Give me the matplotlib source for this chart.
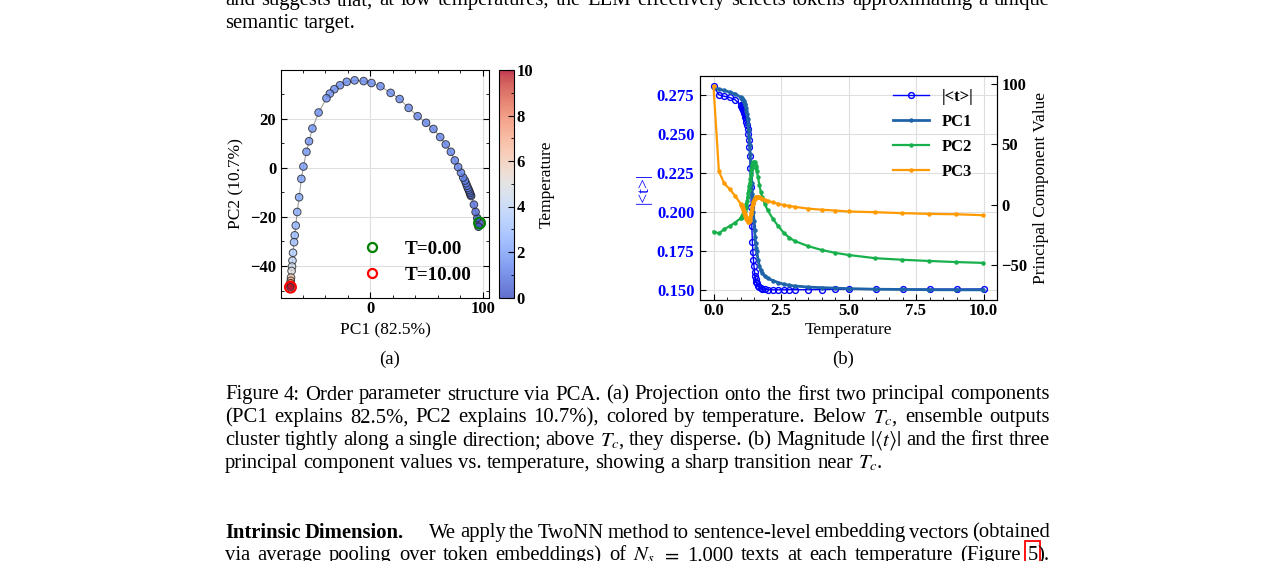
import numpy as np
import matplotlib
matplotlib.use("Agg")
import matplotlib.pyplot as plt
from matplotlib.ticker import MultipleLocator, FormatStrFormatter
from matplotlib.lines import Line2D
from matplotlib.patches import Rectangle

# ---------------- data ----------------
temperature = [0.0, 0.2, 0.4, 0.6, 0.8,
               1.00, 1.02, 1.04, 1.06, 1.08, 1.10, 1.12, 1.14, 1.16, 1.18,
               1.20, 1.22, 1.24, 1.26, 1.28, 1.30, 1.32, 1.34, 1.36, 1.38,
               1.40, 1.42, 1.44, 1.46, 1.48, 1.50, 1.52, 1.54, 1.56, 1.58,
               1.60, 1.65, 1.70, 1.75, 1.80, 1.90,
               2.0, 2.2, 2.4, 2.6, 2.8, 3.0,
               3.5, 4.0, 4.5, 5.0, 6.0, 7.0, 8.0, 9.0, 10.0]

abs_t = [0.2805, 0.2750, 0.2740, 0.2733, 0.2718,
         0.2685, 0.2679, 0.2672, 0.2665, 0.2658, 0.2651, 0.2643, 0.2634, 0.2623, 0.2610,
         0.2597, 0.2578, 0.2556, 0.2530, 0.2500, 0.2462, 0.2415, 0.2360, 0.2280, 0.2160,
         0.2030, 0.1910, 0.1810, 0.1745, 0.1695, 0.1655, 0.1618, 0.1590, 0.1570, 0.1555,
         0.1545, 0.1530, 0.1520, 0.1514, 0.1510, 0.1507,
         0.1505, 0.1504, 0.1504, 0.1504, 0.1505, 0.1505,
         0.1505, 0.1506, 0.1507, 0.1507, 0.1508, 0.1508, 0.1508, 0.1508, 0.1509]

pc1 = [97.0, 96.0, 95.0, 93.5, 92.0,
       89.5, 89.0, 88.5, 88.0, 87.3, 86.6, 85.8, 85.0, 84.0, 82.5,
       80.5, 78.0, 75.0, 71.5, 67.0, 62.0, 56.0, 49.5, 42.0, 34.0,
       26.0, 18.0, 9.0, 1.0, -6.0, -14.0, -21.0, -27.0, -32.0, -36.0,
       -39.0, -46.0, -51.5, -54.5, -56.8, -59.5,
       -61.3, -63.3, -65.0, -66.3, -67.2, -67.8,
       -68.7, -69.2, -69.6, -70.0, -70.5, -70.7, -70.9, -71.0, -71.0]

pc2 = [-22.5, -24.0, -20.5, -18.0, -15.0,
       -11.5, -11.0, -10.3, -9.6, -8.9, -8.2, -7.3, -6.3, -5.2, -4.0,
       -2.0, 0.3, 3.0, 6.5, 9.5, 12.5, 15.8, 18.3, 21.0, 24.4,
       28.0, 30.5, 33.2, 34.5, 35.3, 35.6, 35.0, 33.6, 32.0, 30.2,
       28.3, 22.5, 16.0, 10.8, 6.5, 0.5,
       -4.5, -12.0, -18.0, -23.5, -27.5, -30.3,
       -34.6, -37.8, -40.2, -42.0, -44.7, -46.0, -47.0, -47.9, -48.6]

pc3 = [98.5, 27.5, 17.5, 12.8, 7.2,
       0.8, 0.0, -0.8, -1.8, -2.9, -4.2, -5.5, -6.8, -8.1, -9.4,
       -10.7, -11.9, -13.0, -13.8, -14.3, -14.4, -13.8, -12.5, -10.6, -8.3,
       -5.9, -3.6, -1.5, 0.4, 2.0, 3.4, 4.5, 5.3, 5.9, 6.2,
       6.4, 6.3, 5.9, 5.4, 4.9, 3.9,
       3.0, 1.8, 0.6, -0.4, -1.1, -1.9,
       -3.4, -4.3, -5.0, -5.8, -6.4, -7.2, -7.8, -8.1, -8.9]

legend_a_labels = ["T=0.00", "T=10.00"]
legend_b_labels = ["|<t>|", "PC1", "PC2", "PC3"]

# ---------------- style ----------------
W, H, DPI = 1275, 561, 100
plt.rcParams['font.family'] = ['Liberation Serif', 'DejaVu Serif']
plt.rcParams['mathtext.fontset'] = 'stix'
plt.rcParams['axes.linewidth'] = 0.8

TICK_FS = 12
LABEL_FS = 12.5
BODY_FS = 14.9
C_ABS = '#0000ff'
C_PC1 = '#1f63a8'
C_PC2 = '#18b04c'
C_PC3 = '#ff9a00'

fig = plt.figure(figsize=(W / DPI, H / DPI), dpi=DPI)


def rect(x0, y0, x1, y1):
    return [x0 / W, 1 - y1 / H, (x1 - x0) / W, (y1 - y0) / H]


# ---------------- panel (a) ----------------
axA = fig.add_axes(rect(281, 70, 489, 297.5))
caxA = fig.add_axes(rect(499, 70, 513.5, 297.5))
T = np.asarray(temperature)
axA.plot(pc1, pc2, color='#a0a0a0', lw=0.8, zorder=2)
sc = axA.scatter(pc1, pc2, c=T, cmap='coolwarm', vmin=0, vmax=10, s=30,
                 alpha=0.8, edgecolors='#202020', linewidths=0.7, zorder=3)
axA.scatter(pc1[:1], pc2[:1], s=60, facecolors='none', edgecolors='green',
            linewidths=1.6, zorder=4)
axA.scatter(pc1[-1:], pc2[-1:], s=60, facecolors='none', edgecolors='red',
            linewidths=1.6, zorder=4)
axA.xaxis.set_major_locator(MultipleLocator(100))
axA.xaxis.set_minor_locator(MultipleLocator(20))
axA.yaxis.set_major_locator(MultipleLocator(20))
axA.yaxis.set_minor_locator(MultipleLocator(10))
axA.grid(True, which='major', color='#dedede', lw=0.8)
axA.set_axisbelow(True)
axA.tick_params(which='both', direction='in', top=True, right=True, labelsize=TICK_FS)
axA.tick_params(which='major', length=4, width=0.8)
axA.tick_params(which='minor', length=2.5, width=0.6)
axA.tick_params(axis='x', pad=2.5)
axA.set_xlabel('PC1 (82.5%)', fontsize=LABEL_FS)
axA.set_ylabel('PC2 (10.7%)', fontsize=LABEL_FS)

hA = [Line2D([], [], ls='none', marker='o', ms=6.5, mfc='none', mec='green', mew=1.6),
      Line2D([], [], ls='none', marker='o', ms=6.5, mfc='none', mec='red', mew=1.6)]
axA.legend(hA, legend_a_labels, loc='upper left', bbox_to_anchor=(0.392, 0.25),
           frameon=False, prop={'weight': 'bold', 'size': 13.7}, handlelength=1.0,
           handletextpad=1.2, labelspacing=0.45, borderpad=0, borderaxespad=0)

cb = fig.colorbar(sc, cax=caxA)
cb.set_ticks([0, 2, 4, 6, 8, 10])
cb.ax.yaxis.set_minor_locator(MultipleLocator(1))
cb.ax.tick_params(which='both', direction='in', labelsize=TICK_FS, pad=2)
cb.ax.tick_params(which='major', length=4)
cb.ax.tick_params(which='minor', length=2)
cb.set_label('Temperature', fontsize=LABEL_FS, labelpad=4)
cb.outline.set_linewidth(0.8)

# ---------------- panel (b) ----------------
axB = fig.add_axes(rect(700, 76, 997, 300))
axB2 = axB.twinx()
ln0, = axB.plot(T, abs_t, color=C_ABS, lw=1.0, marker='o', ms=4.2, mfc='none',
                mew=1.0, zorder=3)
ln1, = axB2.plot(T, pc1, color=C_PC1, lw=2.0, marker='o', ms=2.2)
ln2, = axB2.plot(T, pc2, color=C_PC2, lw=1.6, marker='o', ms=2.2)
ln3, = axB2.plot(T, pc3, color=C_PC3, lw=1.6, marker='o', ms=2.2)

axB.xaxis.set_major_locator(MultipleLocator(2.5))
axB.xaxis.set_minor_locator(MultipleLocator(0.5))
axB.xaxis.set_major_formatter(FormatStrFormatter('%.1f'))
axB.yaxis.set_major_locator(MultipleLocator(0.025))
axB.yaxis.set_major_formatter(FormatStrFormatter('%.3f'))
axB2.yaxis.set_major_locator(MultipleLocator(50))
axB.grid(True, which='major', color='#dedede', lw=0.8)
axB.set_axisbelow(True)
axB.tick_params(which='both', direction='in', labelsize=TICK_FS)
axB.tick_params(axis='x', which='major', length=4, pad=2)
axB.tick_params(axis='x', which='minor', length=2.5)
axB.tick_params(axis='y', length=4, labelcolor=C_ABS, pad=4)
axB2.tick_params(direction='in', labelsize=TICK_FS, length=4, pad=3)
axB.set_xlabel('Temperature', fontsize=LABEL_FS, labelpad=2)
axB.set_ylabel('|<t>|', fontsize=LABEL_FS, color=C_ABS)
axB2.set_ylabel('Principal Component Value', fontsize=LABEL_FS)

axB2.legend([ln0, ln1, ln2, ln3], legend_b_labels, loc='upper left',
            bbox_to_anchor=(0.649, 0.943), frameon=False,
            prop={'weight': 'bold', 'size': 12}, handlelength=2.2,
            handletextpad=0.75, labelspacing=0.55, borderpad=0, borderaxespad=0)

# ---------------- page text ----------------
renderer = fig.canvas.get_renderer()


def W_(text, **kw):
    return [(text, kw)]


def line_words(s, **kw):
    return [(W_(w, **kw), 0.0) for w in s.split(' ')]


def place_line(words, x0, x1, base, size=BODY_FS, justify=True):
    items = []
    total = 0.0
    extra = 0.0
    for segs, pre in words:
        arts = []
        ww = 0.0
        for txt, kw in segs:
            t = fig.text(0, 0, txt, fontsize=size, va='baseline', ha='left', **kw)
            w = t.get_window_extent(renderer).width
            arts.append((t, w))
            ww += w
        items.append((arts, ww, pre))
        total += ww
        extra += pre
    n = len(items)
    if justify and n > 1:
        gap = (x1 - x0 - total - extra) / (n - 1)
    else:
        gap = size * 0.25 * DPI / 72.0
    x = x0
    out = []
    for i, (arts, ww, pre) in enumerate(items):
        x += pre
        cx = x
        for t, w in arts:
            t.set_position((cx / W, 1 - base / H))
            out.append(t)
            cx += w
        x += ww + gap
    return out


X0, X1 = 225, 1050
place_line(line_words("and suggests that, at low temperatures, the LLM effectively "
                      "selects tokens approximating a unique"), X0, X1, 5.2)
place_line(line_words("semantic target."), X0, X1, 28.0, justify=False)

cap = [
    ("Figure 4: Order parameter structure via PCA. (a) Projection onto the first two "
     "principal components", True),
    ("(PC1 explains 82.5%, PC2 explains 10.7%), colored by temperature. Below $T_c$, "
     "ensemble outputs", True),
    ("cluster tightly along a single direction; above $T_c$, they disperse. (b) Magnitude "
     r"$|\langle{t}\rangle|$ and the first three", True),
    ("principal component values vs. temperature, showing a sharp transition near $T_c$.",
     False),
]
for i, (s, j) in enumerate(cap):
    place_line(line_words(s), X0, X1, 399.5 + 22.8 * i, justify=j)

words = line_words("Intrinsic Dimension.", fontweight='bold')
rest = line_words("We apply the TwoNN method to sentence-level embedding vectors (obtained")
rest[0] = (rest[0][0], 22.0)
place_line(words + rest, X0, X1, 537.5)

words2 = line_words("via average pooling over token embeddings) of $N_s$ $=$ 1,000 texts at "
                    "each temperature (Figure")
words2.append(([("5", {}), (").", {})], 0.0))
arts = place_line(words2, X0, X1, 560.3)
five = arts[-2]
bb = five.get_window_extent(renderer)
fig.add_artist(Rectangle(((bb.x0 - 2.5) / W, 1 - 567 / H), (bb.x1 - bb.x0 + 5) / W, 26 / H,
                         transform=fig.transFigure, fill=False, ec='red', lw=1.3))

fig.text(390 / W, 1 - 364 / H, '(a)', ha='center', va='baseline', fontsize=13.5)
fig.text(843 / W, 1 - 364 / H, '(b)', ha='center', va='baseline', fontsize=13.5)

# ---------------- bold tick labels ----------------
fig.canvas.draw()
for ax in (axA, cb.ax, axB, axB2):
    for lab in ax.get_xticklabels() + ax.get_yticklabels():
        lab.set_fontweight('bold')

fig.savefig('out.png', dpi=DPI)
